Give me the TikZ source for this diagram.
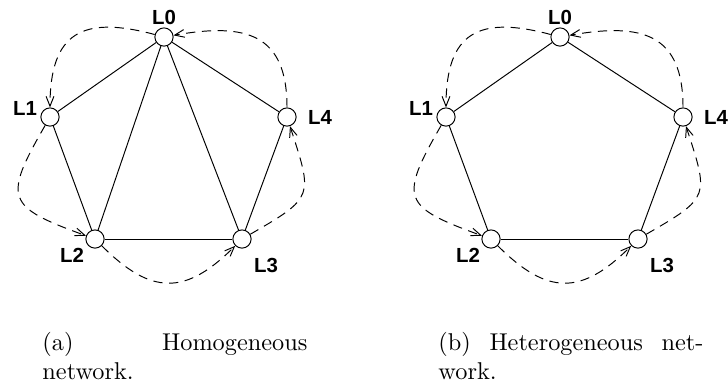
\documentclass[tikz,border=0pt]{standalone}
\usepackage{fontspec}
\newfontfamily\ringfont{Liberation Sans}
\usepackage{tikz}
\usetikzlibrary{arrows.meta}
\tikzset{
  ringnode/.style={circle,draw,fill=white,inner sep=0pt,minimum size=7.5pt,line width=0.4pt},
  ringtag/.style={font=\ringfont\bfseries\fontsize{8.4}{9}\selectfont,inner sep=0pt},
  ringlink/.style={draw,line width=0.4pt},
  ringflow/.style={-{Straight Barb[length=4pt,width=3.2pt]},dashed,dash pattern=on 3.8pt off 2.7pt,line width=0.4pt},
  subcap/.style={anchor=base west,text width=109pt,align=left,inner sep=0pt}
}

\begin{document}
\begin{tikzpicture}[x=0.4115pt,y=-0.4115pt]
  \useasboundingbox (0,0) rectangle (728,386);
  % (a) homogeneous ring
  \node[ringnode] (a0) at (164,37) {};
  \node[ringnode] (a1) at (50,117) {};
  \node[ringnode] (a2) at (95,239) {};
  \node[ringnode] (a3) at (242,239) {};
  \node[ringnode] (a4) at (287,117) {};
  \node[ringtag] (ta0) at ([shift={(0,-20)}]a0.center) {L0};
  \node[ringtag] (ta1) at ([shift={(-25,-9)}]a1.center) {L1};
  \node[ringtag] (ta2) at ([shift={(-23,16)}]a2.center) {L2};
  \node[ringtag] (ta3) at ([shift={(24,26)}]a3.center) {L3};
  \node[ringtag] (ta4) at ([shift={(33,0)}]a4.center) {L4};
  \draw[ringlink] (a0) -- (a1);
  \draw[ringlink] (a0) -- (a2);
  \draw[ringlink] (a0) -- (a3);
  \draw[ringlink] (a0) -- (a4);
  \draw[ringlink] (a1) -- (a2);
  \draw[ringlink] (a2) -- (a3);
  \draw[ringlink] (a3) -- (a4);
  \draw[ringflow] (a0) to[out=165,in=90,looseness=1.5] (a1);
  \draw[ringflow] (a1) to[out=240,in=160,looseness=1.85] (a2);
  \draw[ringflow] (a2) to[out=-45,in=-135,looseness=1.35] (a3);
  \draw[ringflow] (a3) to[out=30,in=-72,looseness=1.65] (a4);
  \draw[ringflow] (a4) to[out=90,in=10,looseness=1.4] (a0);
  \node[subcap] (capa) at (42,350) {(a)\hfill Homogeneous\\network.};
  % (b) heterogeneous ring
  \node[ringnode] (b0) at (560,37) {};
  \node[ringnode] (b1) at (446,117) {};
  \node[ringnode] (b2) at (491,239) {};
  \node[ringnode] (b3) at (638,239) {};
  \node[ringnode] (b4) at (683,117) {};
  \node[ringtag] (tb0) at ([shift={(0,-20)}]b0.center) {L0};
  \node[ringtag] (tb1) at ([shift={(-25,-9)}]b1.center) {L1};
  \node[ringtag] (tb2) at ([shift={(-23,16)}]b2.center) {L2};
  \node[ringtag] (tb3) at ([shift={(24,26)}]b3.center) {L3};
  \node[ringtag] (tb4) at ([shift={(33,0)}]b4.center) {L4};
  \draw[ringlink] (b0) -- (b1);
  \draw[ringlink] (b0) -- (b4);
  \draw[ringlink] (b1) -- (b2);
  \draw[ringlink] (b2) -- (b3);
  \draw[ringlink] (b3) -- (b4);
  \draw[ringflow] (b0) to[out=165,in=90,looseness=1.5] (b1);
  \draw[ringflow] (b1) to[out=240,in=160,looseness=1.85] (b2);
  \draw[ringflow] (b2) to[out=-45,in=-135,looseness=1.35] (b3);
  \draw[ringflow] (b3) to[out=30,in=-72,looseness=1.65] (b4);
  \draw[ringflow] (b4) to[out=90,in=10,looseness=1.4] (b0);
  \node[subcap] (capb) at (438,350) {(b)\hfill Heterogeneous\hfill net-\\work.};
\end{tikzpicture}
\end{document}
